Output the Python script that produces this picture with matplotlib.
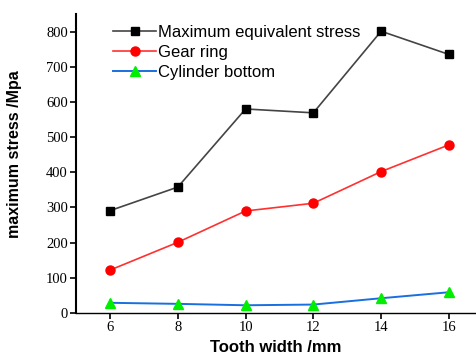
import matplotlib
matplotlib.use("Agg")
import matplotlib.pyplot as plt

tooth_width = [6, 8, 10, 12, 14, 16]
max_equiv_stress = [291, 358, 580, 569, 801, 735]
gear_ring = [122, 201, 290, 312, 402, 478]
cylinder_bottom = [29, 26, 22, 24, 42, 59]
yticks = [0, 100, 200, 300, 400, 500, 600, 700, 800]

fig = plt.figure(figsize=(4.76, 3.54), dpi=100)
ax = fig.add_axes([0.16, 0.1158, 0.84, 0.8447])

ax.plot(tooth_width, max_equiv_stress, color="#444444", lw=1.2, marker="s", ms=6,
        mfc="black", mec="black", label="Maximum equivalent stress")
ax.plot(tooth_width, gear_ring, color="#ff3030", lw=1.2, marker="o", ms=6.5,
        mfc="red", mec="red", label="Gear ring")
ax.plot(tooth_width, cylinder_bottom, color="#1a6fe0", lw=1.4, marker="^", ms=7,
        mfc="#00ee00", mec="#00ee00", label="Cylinder bottom")

ax.set_xlim(5, 16.8)
ax.set_ylim(0, 850)
ax.set_xticks(tooth_width)
ax.set_yticks(yticks)
for s in ["top", "right"]:
    ax.spines[s].set_visible(False)
ax.spines["left"].set_linewidth(1.5)
ax.spines["bottom"].set_linewidth(1.0)
ax.tick_params(direction="out", length=4, width=1.2, labelsize=10.5)
ax.tick_params(axis="x", pad=2)
ax.tick_params(axis="y", pad=2)
for lab in ax.get_xticklabels() + ax.get_yticklabels():
    lab.set_fontfamily("Liberation Serif")

ax.set_xlabel("Tooth width /mm", fontsize=12, fontweight="bold", family="Liberation Sans")
ax.set_ylabel("maximum stress /Mpa", fontsize=11.5, fontweight="bold", family="Liberation Sans")
ax.xaxis.set_label_coords(0.5, -0.09)
ax.yaxis.set_label_coords(-0.135, 0.53)

leg = ax.legend(loc="upper left", bbox_to_anchor=(0.065, 1.0), frameon=False,
                prop={"family": "Liberation Sans", "size": 12},
                handlelength=2.6, handletextpad=0.1, labelspacing=0.3, borderaxespad=0.25)

fig.savefig("out.png", dpi=100)
